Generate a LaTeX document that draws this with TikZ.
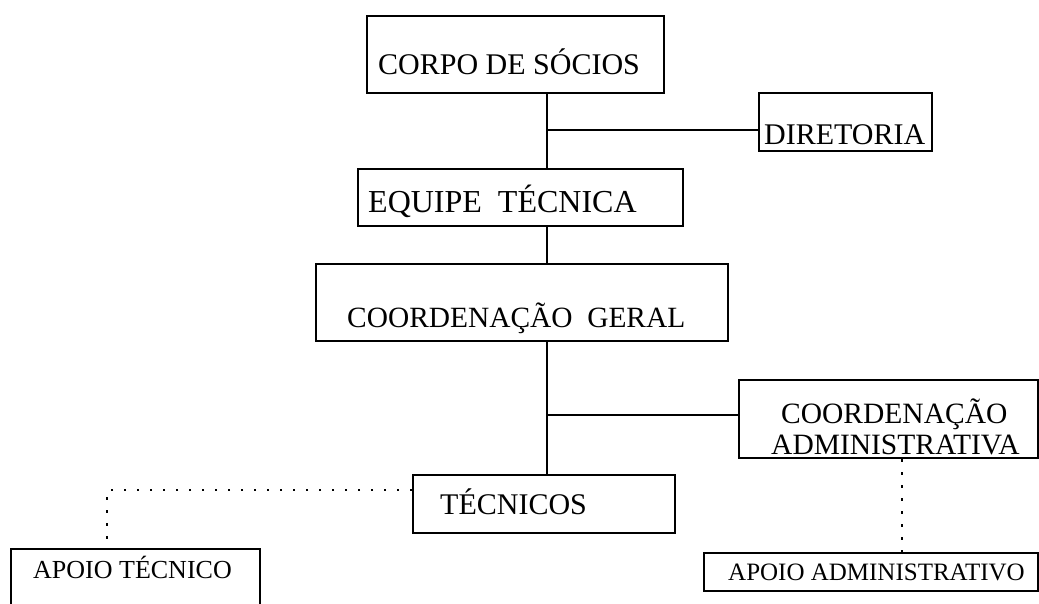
\documentclass[tikz,border=0pt]{standalone}
\usepackage{fontspec}
\setmainfont{Liberation Serif}
\begin{document}
\begin{tikzpicture}[x=1pt,y=-1pt,
  box/.style={draw,line width=2pt,rectangle,inner sep=0pt,anchor=north west},
  lbl/.style={anchor=base west,inner sep=0pt,font=\fontsize{30}{30}\selectfont},
  slbl/.style={anchor=base west,inner sep=0pt,font=\fontsize{26}{26}\selectfont},
  conn/.style={line width=2pt},
  dotconn/.style={line width=2.6pt,dash pattern=on 2.5pt off 10.5pt}]
\useasboundingbox (0,0) rectangle (1039,604);
\clip (0,0) rectangle (1039,604);
% boxes
\node[box,minimum width=297pt,minimum height=77pt] (corpo) at (366,15) {};
\node[box,minimum width=173pt,minimum height=58pt] (dir) at (758,92) {};
\node[box,minimum width=325pt,minimum height=57pt] (equipe) at (357,168) {};
\node[box,minimum width=412pt,minimum height=77pt] (cg) at (315,263) {};
\node[box,minimum width=299pt,minimum height=78pt] (ca) at (738,379) {};
\node[box,minimum width=262pt,minimum height=58pt] (tec) at (412,474) {};
\node[box,minimum width=249pt,minimum height=70pt] (at) at (10,548) {};
\node[box,minimum width=334pt,minimum height=38pt] (aa) at (703,552) {};
% texts
\node[lbl] (tcorpo) at (378,75) {CORPO DE SÓCIOS};
\node[lbl] (tdir) at (764,145) {DIRETORIA};
\node[lbl,font=\fontsize{32}{32}\selectfont] (tequipe) at (368,213) {EQUIPE\ \ TÉCNICA};
\node[lbl,font=\fontsize{29.4}{29.4}\selectfont] (tcg) at (347,327) {COORDENAÇÃO\ \ GERAL};
\node[lbl,font=\fontsize{29.5}{29.5}\selectfont] (tca1) at (781,423) {COORDENAÇÃO};
\node[lbl,font=\fontsize{29.5}{29.5}\selectfont] (tca2) at (771,454) {ADMINISTRATIVA};
\node[lbl] (ttec) at (440,514) {TÉCNICOS};
\node[slbl] (tat) at (33,578) {APOIO TÉCNICO};
\node[slbl,font=\fontsize{25}{25}\selectfont] (taa) at (728,580) {APOIO ADMINISTRATIVO};
% junctions
\coordinate (j1) at (547,130);
\coordinate (j2) at (547,415);
\coordinate (j3) at (107,490);
\coordinate (j4) at (902,500);
% connectors
\draw[conn] (corpo.south -| j1) -- (equipe.north -| j1);
\draw[conn] (j1) -- (dir.west |- j1);
\draw[conn] (equipe.south -| j1) -- (cg.north -| j1);
\draw[conn] (cg.south -| j2) -- (tec.north -| j2);
\draw[conn] (j2) -- (ca.west |- j2);
\draw[dotconn] (tec.west |- j3) -- (j3) -- (at.north -| j3);
\draw[dotconn] (ca.south -| j4) -- (aa.north -| j4);
\end{tikzpicture}
\end{document}
